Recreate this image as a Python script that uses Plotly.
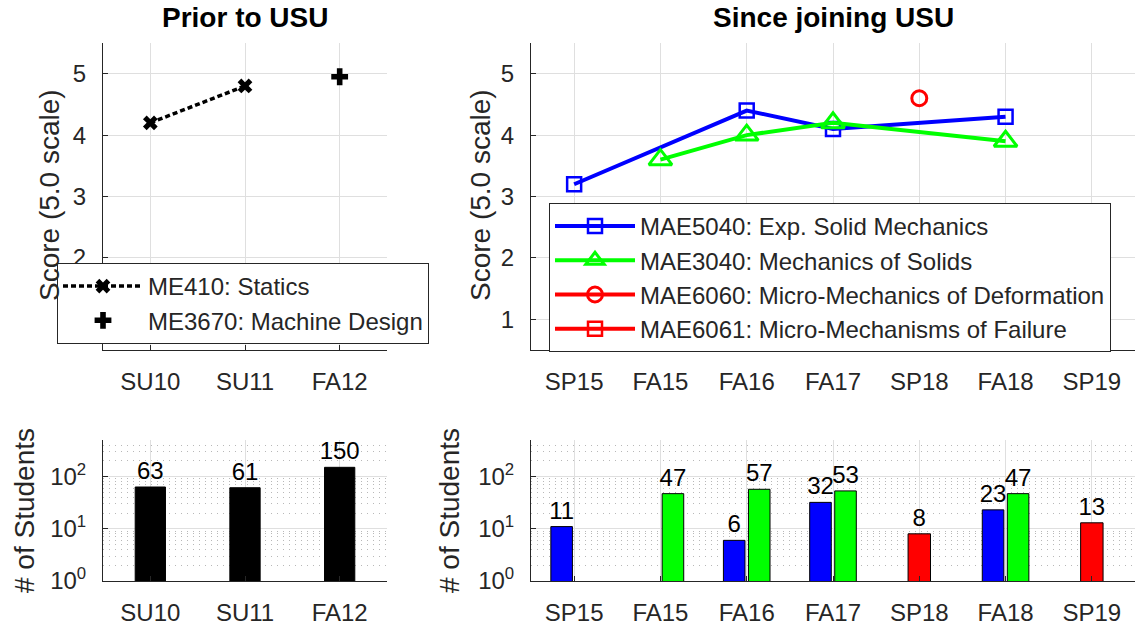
import plotly.graph_objects as go

# ---------------- data ----------------
prior_terms = ["SU10", "SU11", "FA12"]
since_terms = ["SP15", "FA15", "FA16", "FA17", "SP18", "FA18", "SP19"]

me410_terms = ["SU10", "SU11"]
me410_score = [4.2, 4.8]
me3670_terms = ["FA12"]
me3670_score = [4.95]

mae5040_terms = ["SP15", "FA16", "FA17", "FA18"]
mae5040_score = [3.2, 4.4, 4.1, 4.3]
mae3040_terms = ["FA15", "FA16", "FA17", "FA18"]
mae3040_score = [3.6, 4.0, 4.2, 3.9]
mae6060_terms = ["SP18"]
mae6060_score = [4.6]
mae6061_terms = ["SP19"]
mae6061_score = [None]

prior_students = [63, 61, 150]
blue_terms = ["SP15", "FA16", "FA17", "FA18"]
blue_students = [11, 6, 32, 23]
green_terms = ["FA15", "FA16", "FA17", "FA18"]
green_students = [47, 57, 53, 47]
red_terms = ["SP18", "SP19"]
red_students = [8, 13]

score_ticks = [1, 2, 3, 4, 5]
log_tickvals = [1, 10, 100]
log_ticktext = ["10<sup>0</sup>", "10<sup>1</sup>", "10<sup>2</sup>"]
log_minor = [m * d for d in (1, 10, 100) for m in range(2, 10) if m * d < 500]

# ---------------- style ----------------
FONT = "Liberation Sans, Arial, sans-serif"
AX = "#262626"
GRID = "#dfdfdf"
W, H = 1135, 628
TICK = 24
LBL = 28

def px_x(p):
    return p / W

def px_y(p):
    return 1 - p / H

fig = go.Figure()

# top-left lines
fig.add_trace(go.Scatter(x=me410_terms, y=me410_score, mode="lines+markers",
                         name="ME410: Statics", legend="legend",
                         line=dict(color="black", width=3.5, dash="5px,3px"),
                         marker=dict(symbol="x", size=13, color="black"),
                         xaxis="x", yaxis="y"))
fig.add_trace(go.Scatter(x=me3670_terms, y=me3670_score, mode="markers",
                         name="ME3670: Machine Design", legend="legend",
                         marker=dict(symbol="cross", size=14, color="black"),
                         xaxis="x", yaxis="y"))

# top-right lines
fig.add_trace(go.Scatter(x=mae5040_terms, y=mae5040_score, mode="lines+markers",
                         name="MAE5040: Exp. Solid Mechanics", legend="legend2",
                         line=dict(color="#0000ff", width=4),
                         marker=dict(symbol="square-open", size=14, color="#0000ff",
                                     line=dict(width=2.5, color="#0000ff")),
                         xaxis="x2", yaxis="y2"))
fig.add_trace(go.Scatter(x=mae3040_terms, y=mae3040_score, mode="lines+markers",
                         name="MAE3040: Mechanics of Solids", legend="legend2",
                         line=dict(color="#00ff00", width=4),
                         marker=dict(symbol="triangle-up-open", size=20, color="#00ff00",
                                     line=dict(width=3, color="#00ff00")),
                         xaxis="x2", yaxis="y2"))
fig.add_trace(go.Scatter(x=mae6060_terms, y=mae6060_score, mode="lines+markers",
                         name="MAE6060: Micro-Mechanics of Deformation", legend="legend2",
                         line=dict(color="#ff0000", width=4),
                         marker=dict(symbol="circle-open", size=15, color="#ff0000",
                                     line=dict(width=3, color="#ff0000")),
                         xaxis="x2", yaxis="y2"))
fig.add_trace(go.Scatter(x=mae6061_terms, y=mae6061_score, mode="lines+markers",
                         name="MAE6061: Micro-Mechanisms of Failure", legend="legend2",
                         line=dict(color="#ff0000", width=4),
                         marker=dict(symbol="square-open", size=14, color="#ff0000",
                                     line=dict(width=2.5, color="#ff0000")),
                         xaxis="x2", yaxis="y2"))

# bottom-left bars
fig.add_trace(go.Bar(x=prior_terms, y=prior_students, width=0.32,
                     marker=dict(color="black", line=dict(color="black", width=1)),
                     text=[str(v) for v in prior_students], textposition="outside",
                     constraintext="none",
                     textfont=dict(size=TICK, color="black"), cliponaxis=False,
                     showlegend=False, xaxis="x3", yaxis="y3"))

# bottom-right bars
for terms, vals, col, off, wid in [
    (blue_terms, blue_students, "#0000ff", -0.27, 0.25),
    (green_terms, green_students, "#00ff00", 0.02, 0.25),
    (red_terms, red_students, "#ff0000", -0.13, 0.26),
]:
    fig.add_trace(go.Bar(x=terms, y=vals, width=wid, offset=off,
                         marker=dict(color=col, line=dict(color="black", width=1)),
                         text=[str(v) for v in vals], textposition="outside",
                         constraintext="none",
                         textfont=dict(size=TICK, color="black"), cliponaxis=False,
                         showlegend=False, xaxis="x4", yaxis="y4"))

common_x = dict(type="category", showline=True, linecolor=AX, linewidth=1,
                showgrid=True, gridcolor=GRID, gridwidth=1, ticks="inside",
                ticklen=5, tickcolor=AX, tickfont=dict(size=TICK, color=AX),
                ticklabelstandoff=10, zeroline=False, mirror=False,
                automargin=False, fixedrange=True)
common_y = dict(showline=True, linecolor=AX, linewidth=1, showgrid=True,
                gridcolor=GRID, gridwidth=1, ticks="inside", ticklen=5,
                tickcolor=AX, tickfont=dict(size=TICK, color=AX),
                ticklabelstandoff=11, zeroline=False, mirror=False,
                automargin=False)

left_dom = [px_x(103), px_x(387)]
right_dom = [px_x(531), 1.0]
top_dom = [px_y(350), px_y(43)]
bot_dom = [px_y(581), px_y(440)]

log_y = dict(type="log", range=[0, 2.699], tickmode="array", tickvals=log_tickvals,
             ticktext=log_ticktext,
             minor=dict(tickmode="array", tickvals=log_minor, showgrid=True,
                        gridcolor="#b8b8b8", griddash="1px,5px", gridwidth=1, ticks=""))

fig.update_layout(
    template="none",
    width=W, height=H,
    margin=dict(l=0, r=0, t=0, b=0, autoexpand=False),
    paper_bgcolor="white", plot_bgcolor="white",
    font=dict(family=FONT, color=AX),
    barmode="overlay",
    xaxis=dict(common_x, domain=left_dom, anchor="y", categoryorder="array",
               categoryarray=prior_terms, range=[-0.5, 2.5]),
    yaxis=dict(common_y, domain=top_dom, anchor="x", range=[0.5, 5.5],
               tickmode="array", tickvals=score_ticks),
    xaxis2=dict(common_x, domain=right_dom, anchor="y2", categoryorder="array",
                categoryarray=since_terms, range=[-0.5, 6.5]),
    yaxis2=dict(common_y, domain=top_dom, anchor="x2", range=[0.5, 5.5],
                tickmode="array", tickvals=score_ticks),
    xaxis3=dict(common_x, domain=left_dom, anchor="y3", categoryorder="array",
                categoryarray=prior_terms, range=[-0.5, 2.5]),
    yaxis3=dict(common_y, domain=bot_dom, anchor="x3", **log_y),
    xaxis4=dict(common_x, domain=right_dom, anchor="y4", categoryorder="array",
                categoryarray=since_terms, range=[-0.5, 6.5]),
    yaxis4=dict(common_y, domain=bot_dom, anchor="x4", **log_y),
    legend=dict(x=px_x(57), y=px_y(263), xanchor="left", yanchor="top",
                bgcolor="white", bordercolor=AX, borderwidth=1,
                font=dict(size=24, color=AX), itemwidth=80, tracegroupgap=0),
    legend2=dict(x=px_x(549), y=px_y(203), xanchor="left", yanchor="top",
                 bgcolor="white", bordercolor=AX, borderwidth=1,
                 font=dict(size=24, color=AX), itemwidth=80, tracegroupgap=0),
    annotations=[
        dict(text="<b>Prior to USU</b>", x=px_x(245), y=px_y(18), xref="paper", yref="paper",
             showarrow=False, font=dict(size=LBL, color="black"), xanchor="center", yanchor="middle"),
        dict(text="<b>Since joining USU</b>", x=px_x(833), y=px_y(18), xref="paper", yref="paper",
             showarrow=False, font=dict(size=LBL, color="black"), xanchor="center", yanchor="middle"),
        dict(text="Score (5.0 scale)", x=px_x(49), y=px_y(195), xref="paper", yref="paper",
             showarrow=False, textangle=-90, font=dict(size=LBL, color=AX),
             xanchor="center", yanchor="middle"),
        dict(text="Score (5.0 scale)", x=px_x(480), y=px_y(195), xref="paper", yref="paper",
             showarrow=False, textangle=-90, font=dict(size=LBL, color=AX),
             xanchor="center", yanchor="middle"),
        dict(text="# of Students", x=px_x(24), y=px_y(511), xref="paper", yref="paper",
             showarrow=False, textangle=-90, font=dict(size=LBL, color=AX),
             xanchor="center", yanchor="middle"),
        dict(text="# of Students", x=px_x(449), y=px_y(511), xref="paper", yref="paper",
             showarrow=False, textangle=-90, font=dict(size=LBL, color=AX),
             xanchor="center", yanchor="middle"),
    ],
)

fig.write_html("out.html", config={"displayModeBar": False},
               post_script="document.body.style.margin='0';")
